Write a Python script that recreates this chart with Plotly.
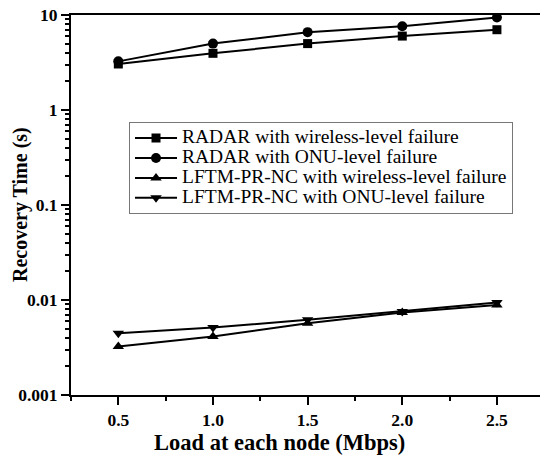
import plotly.graph_objects as go

load = [0.5, 1.0, 1.5, 2.0, 2.5]
radar_wireless = [3.05, 3.95, 5.0, 6.0, 7.0]
radar_onu = [3.25, 5.0, 6.6, 7.6, 9.4]
lftm_wireless = [0.00324, 0.00413, 0.0057, 0.00738, 0.00887]
lftm_onu = [0.00448, 0.00514, 0.00618, 0.00757, 0.0094]

names = [
    "RADAR with wireless-level failure",
    "RADAR with ONU-level failure",
    "LFTM-PR-NC with wireless-level failure",
    "LFTM-PR-NC with ONU-level failure",
]
xticktext = ["0.5", "1.0", "1.5", "2.0", "2.5"]
ytickvals = [0.001, 0.01, 0.1, 1, 10]
yticktext = ["0.001", "0.01", "0.1", "1", "10"]
xtitle = "Load at each node (Mbps)"
ytitle = "Recovery Time (s)"

series = [radar_wireless, radar_onu, lftm_wireless, lftm_onu]
symbols = ["square", "circle", "triangle-up", "triangle-down"]
sizes = [9, 10, 10, 10]

serif = "Liberation Serif"

fig = go.Figure()
for name, ys, sym, sz in zip(names, series, symbols, sizes):
    fig.add_trace(go.Scatter(
        x=load, y=ys, name='<span style="font-size:19.5px">' + name + '</span>',
        mode="lines+markers",
        line=dict(color="black", width=2),
        marker=dict(symbol=sym, size=sz, color="black"),
    ))

fig.update_layout(
    width=540, height=456,
    margin=dict(l=71, r=0, t=15, b=61),
    paper_bgcolor="white", plot_bgcolor="white",
    font=dict(family=serif, color="black"),
    showlegend=True,
    legend=dict(
        x=0.1237, y=0.718, xanchor="left", yanchor="top",
        bgcolor="white", bordercolor="#777777", borderwidth=1,
        font=dict(family=serif, size=13, color="black"),
        tracegroupgap=0, itemwidth=42,
    ),
    annotations=[
        dict(text="<b>" + xtitle + "</b>", xref="paper", yref="paper",
             x=0.4435, y=0, yshift=-47, xanchor="center", yanchor="middle",
             showarrow=False, font=dict(family=serif, size=22.5, color="black")),
        dict(text="<b>" + ytitle + "</b>", xref="paper", yref="paper",
             x=0, y=0.5, xshift=-51, xanchor="center", yanchor="middle", textangle=-90,
             showarrow=False, font=dict(family=serif, size=20, color="black")),
    ],
)
fig.update_xaxes(
    range=[0.25, 2.7275],
    tickvals=load, ticktext=["<b>" + t + "</b>" for t in xticktext],
    ticks="outside", ticklen=8, tickwidth=2, tickcolor="black",
    minor=dict(ticks="outside", ticklen=4, tickwidth=2, tickcolor="black", tick0=0.25, dtick=0.5, showgrid=False),
    showline=True, linewidth=2, linecolor="black", mirror=True,
    showgrid=False, zeroline=False,
    tickfont=dict(family=serif, size=17.5, color="black"),
)
fig.update_yaxes(
    type="log", range=[-3, 1],
    tickvals=ytickvals, ticktext=["<b>" + t + "</b>" for t in yticktext],
    ticks="outside", ticklen=8, tickwidth=2, tickcolor="black",
    minor=dict(ticks="outside", ticklen=4, tickwidth=1.5, tickcolor="black", dtick="D1", showgrid=False),
    showline=True, linewidth=2, linecolor="black", mirror=False,
    showgrid=False, zeroline=False,
    tickfont=dict(family=serif, size=17.5, color="black"),
)
fig.write_html("out.html")
